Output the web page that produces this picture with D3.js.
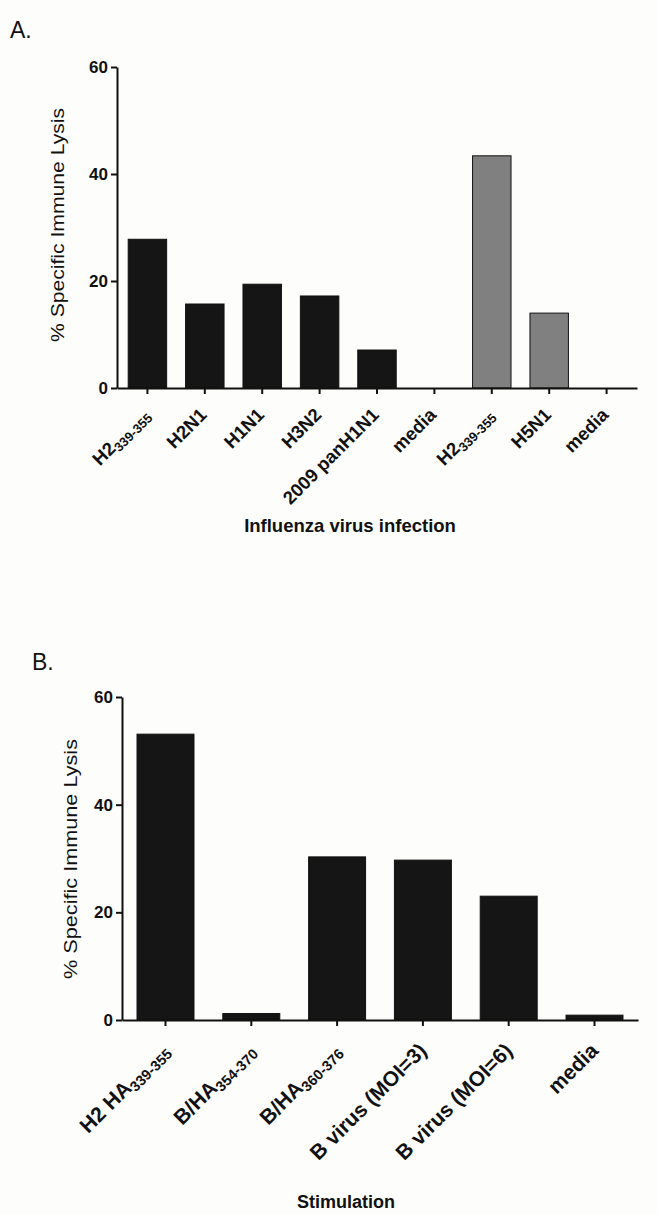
<!DOCTYPE html>
<html>
<head>
<meta charset="utf-8">
<script src="https://cdn.jsdelivr.net/npm/d3@7"></script>
<style>
  body { margin: 0; background: #fdfdfb; }
  svg { display: block; font-family: Arial, "Liberation Sans", sans-serif; }
</style>
</head>
<body>
<svg id="fig" width="657" height="1214"></svg>
<script>
// panel A - influenza virus infection
var labelsA = ["H2", "H2N1", "H1N1", "H3N2", "2009 panH1N1", "media", "H2", "H5N1", "media"];
var subsA = ["339-355", "", "", "", "", "", "339-355", "", ""];
var valuesA = [27.8, 15.7, 19.4, 17.2, 7.1, 0, 43.4, 14.0, 0];
var groupsA = [1, 1, 1, 1, 1, 1, 2, 2, 2];

// panel B - stimulation
var labelsB = ["H2 HA", "B/HA", "B/HA", "B virus (MOI=3)", "B virus (MOI=6)", "media"];
var subsB = ["339-355", "354-370", "360-376", "", "", ""];
var valuesB = [53.1, 1.2, 30.3, 29.7, 23.0, 0.9];
var groupsB = [1, 1, 1, 1, 1, 1];

var yTicks = [0, 20, 40, 60];

var svg = d3.select("#fig");
svg.append("rect").attr("width", 657).attr("height", 1214).attr("fill", "#fdfdfb");

var fills = {1: "#151515", 2: "#808080"};

function panel(opt){
  var g = svg.append("g");
  var n = opt.values.length;

  var x = d3.scaleBand()
    .domain(d3.range(n))
    .range([opt.left, opt.right])
    .paddingInner(opt.pi)
    .paddingOuter(opt.po);

  var y = d3.scaleLinear().domain([0, 60]).range([opt.bottom, opt.top]);

  // bars
  g.selectAll("rect.bar")
    .data(opt.values)
    .enter().append("rect")
    .attr("class", "bar")
    .attr("x", function(d, i){ return x(i); })
    .attr("width", x.bandwidth())
    .attr("y", function(d){ return y(d); })
    .attr("height", function(d){ return y(0) - y(d); })
    .attr("fill", function(d, i){ return fills[opt.groups[i]]; })
    .attr("stroke", "#111")
    .attr("stroke-width", function(d){ return d > 0 ? 1 : 0; });

  // y axis
  var ya = g.append("g")
    .attr("transform", "translate(" + opt.left + ",0)")
    .call(d3.axisLeft(y).tickValues(yTicks).tickSize(6).tickSizeOuter(0).tickPadding(3));
  ya.select(".domain").attr("stroke-width", 2).attr("stroke", "#111");
  ya.selectAll(".tick line").attr("stroke-width", 2).attr("stroke", "#111");
  ya.selectAll(".tick text")
    .style("font-size", opt.tickFont + "px")
    .style("font-weight", "bold")
    .attr("fill", "#111")
    .attr("font-family", null);

  // x axis
  var xa = g.append("g")
    .attr("transform", "translate(0," + opt.bottom + ")")
    .call(d3.axisBottom(x).tickSize(6).tickSizeOuter(0).tickFormat(""));
  xa.select(".domain").attr("stroke-width", 2).attr("stroke", "#111");
  xa.selectAll(".tick line").attr("stroke-width", 2).attr("stroke", "#111");

  // rotated category labels with subscripts
  var lab = g.selectAll("g.lab")
    .data(opt.labels)
    .enter().append("g")
    .attr("class", "lab")
    .attr("transform", function(d, i){
      var cx = x(i) + x.bandwidth() / 2 + opt.labDx;
      return "translate(" + cx + "," + (opt.bottom + opt.labDy) + ") rotate(-45)";
    });
  var t = lab.append("text")
    .attr("text-anchor", "end")
    .style("font-size", opt.labFont + "px")
    .style("font-weight", "bold")
    .attr("fill", "#111");
  t.append("tspan").text(function(d){ return d; });
  t.append("tspan")
    .attr("dy", function(d, i){ return opt.subs[i] ? 4 : 0; })
    .style("font-size", opt.subFont + "px")
    .text(function(d, i){ return opt.subs[i]; });

  // y title
  g.append("text")
    .attr("transform", "translate(" + opt.yTitleX + "," + opt.yTitleY + ") rotate(-90)")
    .attr("text-anchor", "middle")
    .attr("textLength", opt.yTitleLen)
    .attr("lengthAdjust", "spacingAndGlyphs")
    .style("font-size", "18px")
    .attr("fill", "#111")
    .text("% Specific Immune Lysis");

  // x title
  g.append("text")
    .attr("x", opt.xTitleX)
    .attr("y", opt.xTitleY)
    .attr("text-anchor", "middle")
    .style("font-size", opt.xTitleFont + "px")
    .style("font-weight", "bold")
    .attr("fill", "#111")
    .text(opt.xTitle);

  // panel letter
  g.append("text")
    .attr("x", opt.letterX)
    .attr("y", opt.letterY)
    .style("font-size", "23px")
    .attr("fill", "#111")
    .text(opt.letter);
}

panel({
  values: valuesA, labels: labelsA, subs: subsA, groups: groupsA,
  left: 117, right: 637, top: 67, bottom: 388, pi: 0.33, po: 0.195,
  tickFont: 17, labFont: 18.5, subFont: 13, labDx: 3, labDy: 28,
  yTitleX: 64, yTitleY: 225, yTitleLen: 234,
  xTitle: "Influenza virus infection", xTitleFont: 18.5, xTitleX: 350, xTitleY: 532,
  letter: "A.", letterX: 10, letterY: 38
});

panel({
  values: valuesB, labels: labelsB, subs: subsB, groups: groupsB,
  left: 122, right: 638, top: 697, bottom: 1020, pi: 0.336, po: 0.175,
  tickFont: 17, labFont: 21, subFont: 14.5, labDx: 5, labDy: 32,
  yTitleX: 77, yTitleY: 859, yTitleLen: 240,
  xTitle: "Stimulation", xTitleFont: 18, xTitleX: 346, xTitleY: 1208,
  letter: "B.", letterX: 32, letterY: 670
});
</script>
</body>
</html>
